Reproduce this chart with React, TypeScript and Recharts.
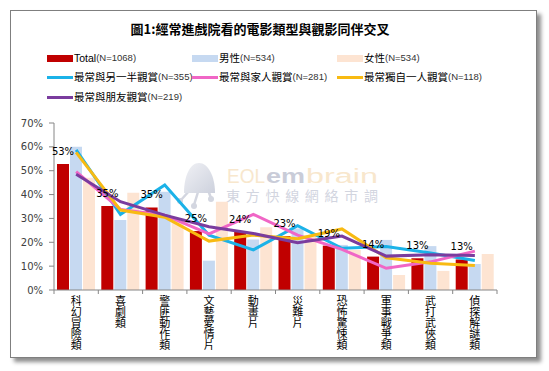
import React from 'react';
import { ComposedChart, Bar, Line, XAxis, YAxis, LabelList } from 'recharts';

const categories = ['科幻冒險類', '喜劇類', '警匪動作類', '文藝愛情片', '動畫片', '災難片', '恐怖驚悚類', '軍事戰爭類', '武打武俠類', '偵探解謎類'];
const totalValues = [52.8, 35.2, 34.6, 24.7, 24.4, 22.6, 18.6, 14.0, 13.3, 12.8];
const maleValues = [60.0, 29.3, 41.2, 12.3, 21.2, 25.8, 18.9, 21.0, 18.4, 10.9];
const femaleValues = [47.0, 40.8, 29.0, 37.0, 26.3, 23.0, 16.8, 6.3, 8.0, 15.1];
const partnerValues = [58.7, 31.7, 44.0, 23.0, 16.8, 27.0, 17.5, 18.2, 15.5, 12.4];
const familyValues = [49.6, 33.8, 31.4, 23.5, 31.7, 23.0, 17.0, 9.1, 11.8, 16.3];
const aloneValues = [57.7, 33.5, 30.5, 20.5, 23.0, 21.5, 25.6, 13.5, 11.2, 10.3];
const friendsValues = [48.5, 37.0, 31.4, 26.5, 23.7, 19.8, 22.6, 14.2, 14.8, 14.5];

const seriesKeys = ['total', 'male', 'female', 'partner', 'family', 'alone', 'friends'];
const seriesNames = ['Total', '男性', '女性', '最常與另一半觀賞', '最常與家人觀賞', '最常獨自一人觀賞', '最常與朋友觀賞'];
const seriesN = [1068, 534, 534, 355, 281, 118, 219];
const seriesColors = ['#C00000', '#C6D9F1', '#FDE4D2', '#1BB2E8', '#F066C6', '#F8BA12', '#7A3C9E'];
const yTicks = [0, 10, 20, 30, 40, 50, 60, 70];
const titleText = '圖1:經常進戲院看的電影類型與觀影同伴交叉';

const data = categories.map((c, i) => ({
  category: c,
  total: totalValues[i],
  male: maleValues[i],
  female: femaleValues[i],
  partner: partnerValues[i],
  family: familyValues[i],
  alone: aloneValues[i],
  friends: friendsValues[i],
}));

const CJK = '"Noto Sans CJK TC", "Noto Sans CJK SC", sans-serif';
const AXIS = '#868686';

const XTick = (props: any) => {
  const { x, y, payload, index } = props;
  const half = payload && payload.offset != null ? payload.offset : 0;
  const last = index === categories.length - 1;
  return (
    <g>
      <line x1={x - half} x2={x - half} y1={y} y2={y + 4} stroke={AXIS} />
      {last && <line x1={x + half} x2={x + half} y1={y} y2={y + 4} stroke={AXIS} />}
      <text x={x} y={y + 5} fontSize={11} fontFamily={CJK} fill="#000" style={{ writingMode: 'vertical-rl' as any }}>
        {String(payload.value)}
      </text>
    </g>
  );
};

const legendCols = [47, 192, 337];
const legendRows = [58, 77, 97];

const Legend = () => (
  <>
    {seriesNames.map((name, i) => {
      const col = legendCols[i % 3];
      const row = legendRows[Math.floor(i / 3)];
      const isBar = i < 3;
      const h = isBar ? 7 : 3;
      return (
        <div key={name} style={{ position: 'absolute', left: col, top: row - 8, height: 16, display: 'flex', alignItems: 'center', whiteSpace: 'nowrap' }}>
          <div style={{ width: 26, height: h, background: seriesColors[i], marginRight: 1 }} />
          <span style={{ fontFamily: '"Liberation Sans", ' + CJK, fontSize: 10.5, color: '#000', lineHeight: '16px' }}>{name}</span>
          <span style={{ fontFamily: '"Liberation Sans", sans-serif', fontSize: 9.5, color: '#333', lineHeight: '16px' }}>(N={seriesN[i]})</span>
        </div>
      );
    })}
  </>
);

const Watermark = () => (
  <svg width={549} height={371} style={{ position: 'absolute', left: 0, top: 0 }}>
    <defs>
      <linearGradient id="ghost" x1="0" y1="0" x2="1" y2="1">
        <stop offset="0" stopColor="#F0F1F5" />
        <stop offset="1" stopColor="#CDD1DD" />
      </linearGradient>
    </defs>
    <g stroke="#D3D6E0" strokeWidth={2.5} fill="none">
      <line x1={190} y1={190} x2={181} y2={200} />
      <line x1={198} y1={192} x2={194} y2={205} />
      <line x1={208} y1={190} x2={211} y2={198} />
    </g>
    <circle cx={180} cy={201} r={3} fill="#D3D6E0" />
    <circle cx={194} cy={206} r={3} fill="#D3D6E0" />
    <circle cx={211} cy={199} r={3} fill="#D3D6E0" />
    <path d="M184 193 C184 176 190 163 199 163 C208 163 215 176 215 193 Z" fill="url(#ghost)" />
    <text x={227} y={183} fontFamily='"Liberation Sans", sans-serif' fontSize={20} fill="#F8E7CD" textLength={38} lengthAdjust="spacingAndGlyphs">EOL</text>
    <text x={266} y={183} fontFamily='"Liberation Sans", sans-serif' fontWeight="bold" fontSize={21} fill="#C9CCD8" textLength={39} lengthAdjust="spacingAndGlyphs">em</text>
    <text x={306} y={183} fontFamily='"Liberation Sans", sans-serif' fontSize={20} fill="#F8E7CD" textLength={72} lengthAdjust="spacingAndGlyphs">brain</text>
    <text x={226} y={201} fontFamily={CJK} fontSize={14} fill="#D2D5DF" textLength={152} lengthAdjust="spacing">東方快線網絡市調</text>
  </svg>
);

export default function App() {
  return (
    <div style={{ position: 'absolute', left: 0, top: 0, width: 549, height: 371, background: '#fff', overflow: 'hidden' }}>
      <div style={{ position: 'absolute', left: 10, top: 10, width: 525, height: 346, border: '1px solid #7F7F7F', boxShadow: '4px 4px 4px rgba(0,0,0,0.45)', background: '#fff' }} />
      <Watermark />
      <div style={{ position: 'absolute', left: 10, top: 21, width: 500, textAlign: 'center', fontFamily: CJK, fontWeight: 'bold', fontSize: 13, lineHeight: '16px', color: '#000' }}>
        {titleText}
      </div>
      <Legend />
      <div style={{ position: 'absolute', left: 0, top: 0 }}>
        <ComposedChart width={549} height={371} data={data} margin={{ top: 123, left: 10, right: 52, bottom: 11 }} barCategoryGap={3} barGap={1}>
          <XAxis dataKey="category" interval={0} height={70} tickSize={0} tickMargin={0} tickLine={false} axisLine={{ stroke: AXIS }} tick={<XTick />} />
          <YAxis domain={[0, 70]} ticks={yTicks} interval={0} width={44} tickSize={5} tickMargin={6} tickFormatter={(v: number) => `${v}%`} axisLine={{ stroke: AXIS }} tickLine={{ stroke: AXIS }} tick={{ fontSize: 10, fill: '#404040', fontFamily: '"DejaVu Sans", sans-serif' }} />
          {seriesKeys.slice(0, 3).map((k, i) => (
            <Bar key={k} dataKey={k} name={seriesNames[i]} fill={seriesColors[i]} isAnimationActive={false}>
              {i === 0 && (
                <LabelList dataKey="total" position="top" offset={9} formatter={(v: any) => `${Math.round(Number(v))}%`} style={{ fontSize: 10, fill: '#000', fontFamily: '"DejaVu Sans", sans-serif' }} />
              )}
            </Bar>
          ))}
          {seriesKeys.slice(3).map((k, j) => (
            <Line key={k} dataKey={k} name={seriesNames[j + 3]} type="linear" stroke={seriesColors[j + 3]} strokeWidth={3} dot={false} activeDot={false} isAnimationActive={false} />
          ))}
        </ComposedChart>
      </div>
    </div>
  );
}
